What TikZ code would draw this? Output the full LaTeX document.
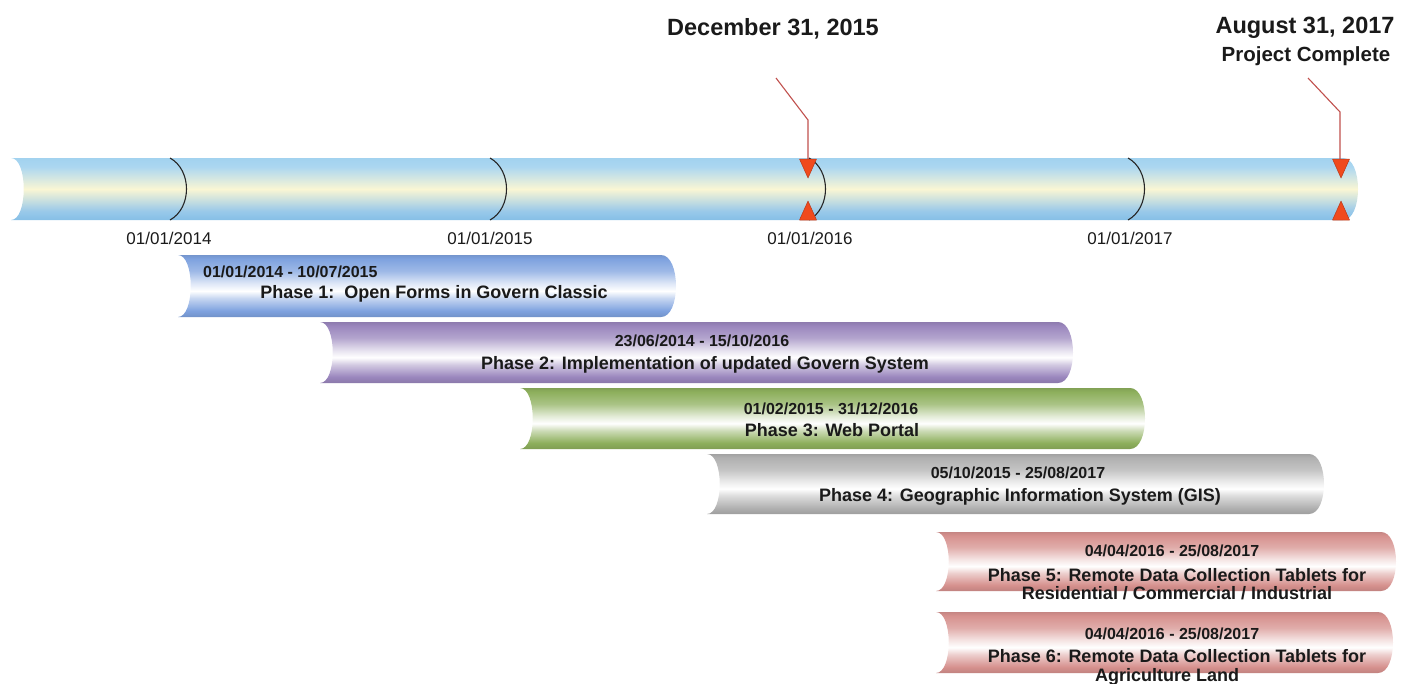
\documentclass[tikz,border=0pt]{standalone}
\usepackage{fontspec}
\setmainfont{Liberation Sans}
\usetikzlibrary{calc}
\definecolor{txt}{HTML}{1A1A1A}
\definecolor{mkline}{HTML}{C0504D}
\definecolor{mkfill}{HTML}{F04A1E}
\definecolor{mkedge}{HTML}{B83A1A}
\definecolor{axbot}{HTML}{86BFE6}
\definecolor{axtop}{HTML}{A2D2EF}
\definecolor{axmid}{HTML}{FAF6D4}
\pgfdeclareverticalshading{axisshade}{100bp}{color(0bp)=(axbot); color(25bp)=(axbot); color(32bp)=(axbot!85!white); color(50bp)=(axmid); color(68bp)=(axtop!90!white); color(75bp)=(axtop); color(100bp)=(axtop)}
\definecolor{cblue}{HTML}{7EA2DF}
\definecolor{cpurp}{HTML}{9A86BD}
\definecolor{cgreen}{HTML}{8DAF5C}
\definecolor{cgrey}{HTML}{B0B0B0}
\definecolor{cpink}{HTML}{D6918E}
\newcommand\barshade[2]{%
  \pgfdeclareverticalshading{#1}{100bp}{color(0bp)=(#2!90!black); color(25bp)=(#2!90!black); color(30bp)=(#2); color(40bp)=(#2!45!white); color(46bp)=(white); color(52bp)=(#2!25!white); color(62bp)=(#2!75!white); color(72bp)=(#2); color(75bp)=(#2!92!black); color(100bp)=(#2!92!black)}}
\barshade{blueshade}{cblue}
\barshade{purpshade}{cpurp}
\barshade{greenshade}{cgreen}
\barshade{greyshade}{cgrey}
\barshade{pinkshade}{cpink}
\newcommand\cylbar[5]{%
  \shade[shading=#5] (#1,#3) -- ({#2-15},#3) .. controls ({#2+5},#3) and ({#2+5},#4) .. ({#2-15},#4) -- (#1,#4) .. controls ({#1+17},#4) and ({#1+17},#3) .. (#1,#3) -- cycle;}
\tikzset{
  x=1pt, y=-1pt,
  datelbl/.style={anchor=base, inner sep=0pt, text=txt, font=\fontsize{17}{17}\selectfont},
  phdate/.style={anchor=base, inner sep=0pt, text=txt, font=\bfseries\fontsize{16}{16}\selectfont},
  phtitle/.style={anchor=base, inner sep=0pt, text=txt, font=\bfseries\fontsize{18}{18}\selectfont},
  headlbl/.style={anchor=base, inner sep=0pt, text=txt, font=\bfseries\fontsize{23.5}{24}\selectfont},
  sublbl/.style={anchor=base, inner sep=0pt, text=txt, font=\bfseries\fontsize{20.5}{21}\selectfont},
  divider/.style={draw=black!85, line width=1.1pt},
  marker/.style={draw=mkline, line width=1.1pt},
  tri/.style={fill=mkfill, draw=mkedge, line width=0.5pt, line join=round}
}
\begin{document}
\begin{tikzpicture}
\useasboundingbox (0,0) rectangle (1404,683);
% main axis bar
\cylbar{11}{1358}{158}{220}{axisshade}
% dividers
\foreach \xx in {170, 490, 809, 1128}{
  \draw[divider] (\xx,158) .. controls ({\xx+22},170) and ({\xx+22},208) .. (\xx,220);
}
\node[datelbl] (y14) at (169,244) {01/01/2014};
\node[datelbl] (y15) at (490,244) {01/01/2015};
\node[datelbl] (y16) at (810,244) {01/01/2016};
\node[datelbl] (y17) at (1130,244) {01/01/2017};
% headings
\node[headlbl] (h15) at (773,35) {December 31, 2015};
\node[headlbl] (h17) at (1305,33) {August 31, 2017};
\node[sublbl] (h17b) at (1306,61) {Project Complete};
% markers
\coordinate (m15s) at (776,78);
\coordinate (m15k) at (808,120);
\coordinate (m15e) at (808,159);
\coordinate (m17s) at (1308,78);
\coordinate (m17k) at (1340,112);
\coordinate (m17e) at (1340,159);
\draw[marker] (m15s) -- (m15k) -- (m15e);
\draw[marker] (m17s) -- (m17k) -- (m17e);
\foreach \xx in {808,1341}{
  \filldraw[tri] ({\xx-8.5},159) -- ({\xx+8.5},159) -- (\xx,178) -- cycle;
  \filldraw[tri] ({\xx-8.5},220) -- ({\xx+8.5},220) -- (\xx,201) -- cycle;
}
% phase bars
\cylbar{178}{676}{255}{317}{blueshade}
\cylbar{320}{1073}{322}{383}{purpshade}
\cylbar{520}{1145}{388}{449}{greenshade}
\cylbar{707}{1324}{454}{514}{greyshade}
\cylbar{936}{1396}{532}{591}{pinkshade}
\cylbar{936}{1393}{612}{673}{pinkshade}
% phase texts
\node[phdate, anchor=base west] (p1d) at (203,277) {01/01/2014 - 10/07/2015};
\node[phtitle] (p1t) at (434,298) {Phase 1:\ \ Open Forms in Govern Classic};
\node[phdate] (p2d) at (702,346) {23/06/2014 - 15/10/2016};
\node[phtitle] (p2t) at (705,369) {Phase 2: Implementation of updated Govern System};
\node[phdate] (p3d) at (831,414) {01/02/2015 - 31/12/2016};
\node[phtitle] (p3t) at (832,436) {Phase 3: Web Portal};
\node[phdate] (p4d) at (1018,478) {05/10/2015 - 25/08/2017};
\node[phtitle] (p4t) at (1020,501) {Phase 4: Geographic Information System (GIS)};
\node[phdate] (p5d) at (1172,556) {04/04/2016 - 25/08/2017};
\node[phtitle] (p5t) at (1177,581) {Phase 5: Remote Data Collection Tablets for};
\node[phtitle] (p5u) at (1177,599) {Residential / Commercial / Industrial};
\node[phdate] (p6d) at (1172,639) {04/04/2016 - 25/08/2017};
\node[phtitle] (p6t) at (1177,662) {Phase 6: Remote Data Collection Tablets for};
\node[phtitle] (p6u) at (1167,681) {Agriculture Land};
\end{tikzpicture}
\end{document}
